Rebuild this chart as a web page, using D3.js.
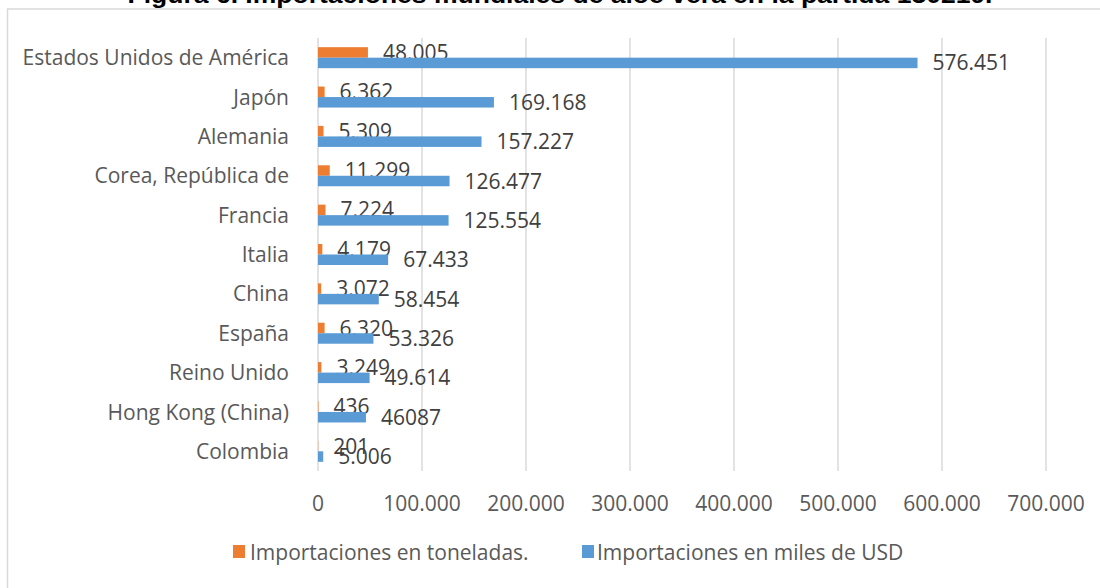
<!DOCTYPE html>
<html>
<head>
<meta charset="utf-8">
<script src="https://cdn.jsdelivr.net/npm/d3@7"></script>
<style>
  html, body { margin: 0; padding: 0; background: #fff; }
  svg { display: block; }
  text { font-family: "Open Sans", sans-serif; }
</style>
</head>
<body>
<svg id="chart" width="1100" height="588"></svg>
<script>
// Importaciones mundiales de aloe vera (partida 130219), por país importador
const paises = [
  "Estados Unidos de América", "Japón", "Alemania", "Corea, República de",
  "Francia", "Italia", "China", "España", "Reino Unido",
  "Hong Kong (China)", "Colombia"
];
const toneladas = [48005, 6362, 5309, 11299, 7224, 4179, 3072, 6320, 3249, 436, 201];
const milesUSD = [576451, 169168, 157227, 126477, 125554, 67433, 58454, 53326, 49614, 46087, 5006];
const etiquetasToneladas = ["48.005", "6.362", "5.309", "11.299", "7.224", "4.179", "3.072", "6.320", "3.249", "436", "201"];
const etiquetasUSD = ["576.451", "169.168", "157.227", "126.477", "125.554", "67.433", "58.454", "53.326", "49.614", "46087", "5.006"];
const ticks = [0, 100000, 200000, 300000, 400000, 500000, 600000, 700000];
const tickLabels = ["0", "100.000", "200.000", "300.000", "400.000", "500.000", "600.000", "700.000"];
const series = [
  { name: "Importaciones en toneladas.", values: toneladas, labels: etiquetasToneladas, color: "#ED7D31" },
  { name: "Importaciones en miles de USD", values: milesUSD, labels: etiquetasUSD, color: "#5B9BD5" }
];
const titulo = "Figura 6. Importaciones mundiales de aloe vera en la partida 130219.";

const svg = d3.select("#chart");
const plot = { left: 318, right: 1046, top: 38, bottom: 471 };
const fs = "21px";

const x = d3.scaleLinear().domain([0, 700000]).range([plot.left, plot.right]);
const y = d3.scaleBand().domain(paises).range([plot.top, plot.bottom]);
const barH = 10.5;

// Title (partially above the frame)
svg.append("text")
  .attr("x", 560).attr("y", 3)
  .attr("text-anchor", "middle")
  .attr("textLength", 865)
  .attr("lengthAdjust", "spacingAndGlyphs")
  .style("font-family", "'Liberation Sans', Arial, sans-serif")
  .style("font-weight", "bold")
  .style("font-size", "24px")
  .attr("fill", "#000")
  .text(titulo);

// Chart frame
svg.append("rect")
  .attr("x", 7.5).attr("y", 9)
  .attr("width", 1110).attr("height", 600)
  .attr("fill", "none")
  .attr("stroke", "#d9d9d9")
  .attr("stroke-width", 1.5);

// Vertical gridlines
svg.append("g").selectAll("line")
  .data(ticks)
  .join("line")
  .attr("x1", d => x(d)).attr("x2", d => x(d))
  .attr("y1", plot.top).attr("y2", plot.bottom)
  .attr("stroke", "#d9d9d9")
  .attr("stroke-width", 1.5);

// Tick labels
svg.append("g").selectAll("text")
  .data(ticks)
  .join("text")
  .attr("x", d => x(d))
  .attr("y", 503.5)
  .attr("dy", "0.36em")
  .attr("text-anchor", "middle")
  .attr("fill", "#595959")
  .style("font-size", fs)
  .text((d, i) => tickLabels[i]);

// Category labels
svg.append("g").selectAll("text")
  .data(paises)
  .join("text")
  .attr("x", 289)
  .attr("y", d => y(d) + y.bandwidth() / 2)
  .attr("dy", "0.36em")
  .attr("text-anchor", "end")
  .attr("fill", "#595959")
  .style("font-size", fs)
  .text(d => d);

// Bars: toneladas above, miles de USD below the band centre
series.forEach((s, si) => {
  const g = svg.append("g");
  const yTop = d => y(d) + y.bandwidth() / 2 - barH + si * barH;
  g.selectAll("rect")
    .data(paises)
    .join("rect")
    .attr("x", x(0))
    .attr("y", d => yTop(d))
    .attr("width", (d, i) => x(s.values[i]) - x(0))
    .attr("height", barH)
    .attr("fill", s.color);
  g.selectAll("text")
    .data(paises)
    .join("text")
    .attr("x", (d, i) => x(s.values[i]) + 15)
    .attr("y", d => yTop(d) + barH / 2)
    .attr("dy", "0.36em")
    .attr("fill", "#404040")
    .style("font-size", fs)
    .text((d, i) => s.labels[i]);
});

// Legend
const legendPos = [{ sx: 233, tx: 250 }, { sx: 582, tx: 597 }];
const legend = svg.append("g").selectAll("g")
  .data(series)
  .join("g");
legend.append("rect")
  .attr("x", (d, i) => legendPos[i].sx)
  .attr("y", 545)
  .attr("width", 12).attr("height", 13)
  .attr("fill", d => d.color);
legend.append("text")
  .attr("x", (d, i) => legendPos[i].tx)
  .attr("y", 552)
  .attr("dy", "0.36em")
  .attr("fill", "#595959")
  .style("font-size", fs)
  .text(d => d.name);
</script>
</body>
</html>
